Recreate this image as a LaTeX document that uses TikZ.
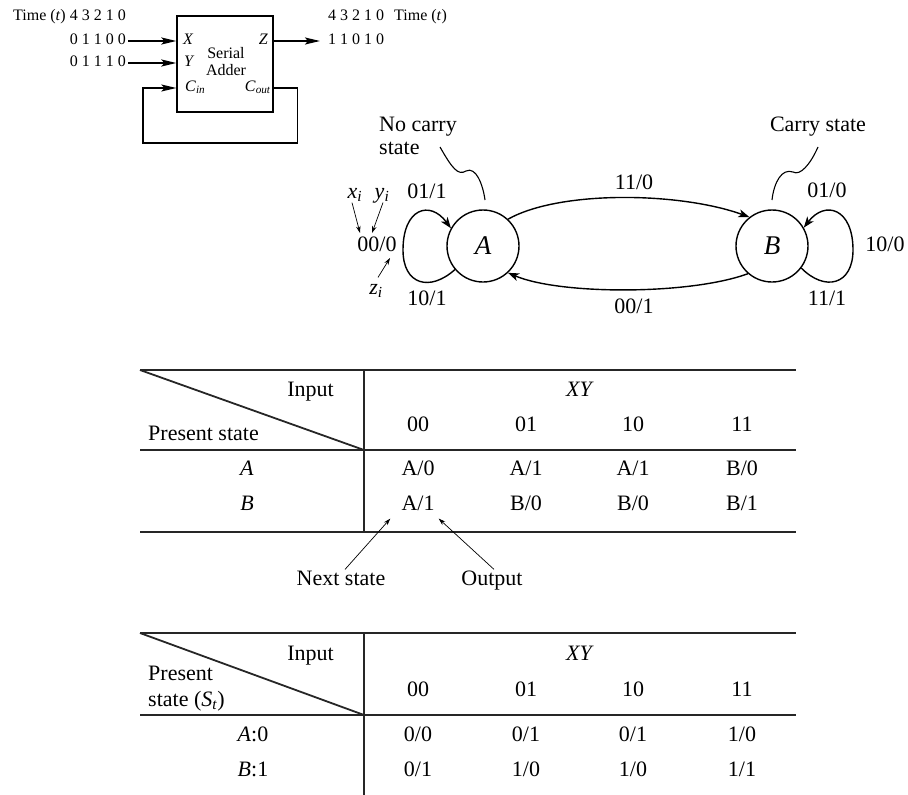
\documentclass[tikz,border=0pt]{standalone}
\usepackage{fontspec}
\setmainfont{Liberation Serif}
\usetikzlibrary{arrows.meta,positioning,calc}

\tikzset{
  big/.style={font=\fontsize{22}{24}\selectfont, inner sep=0pt, text height=0.68em, text depth=0pt},
  small/.style={font=\fontsize{16}{18}\selectfont, inner sep=0pt, text height=0.68em, text depth=0pt},
  state/.style={draw, circle, line width=1.4pt, minimum size=72pt, inner sep=0pt, font=\fontsize{27}{29}\selectfont\itshape},
  rule/.style={line width=1.8pt, draw=black!85},
  wire/.style={line width=1.3pt},
  fat/.style={-{Stealth[length=15pt,width=7pt,inset=3pt]}, line width=1.8pt},
  edge/.style={-{Stealth[length=11pt,width=8pt,inset=3pt]}, line width=1.4pt},
  thin/.style={-{Stealth[length=7pt,width=4.5pt]}, line width=0.7pt},
}

\begin{document}
\begin{tikzpicture}[x=1pt, y=-1pt]
    \useasboundingbox (0,0) rectangle (908,795);

    % serial adder block
    \node[small, anchor=east] (time1) at (126,17) {Time (\textit{t}) 4 3 2 1 0};
    \node[small, anchor=east] (xbits) at (126,41) {0 1 1 0 0};
    \node[small, anchor=east] (ybits) at (126,63) {0 1 1 1 0};
    \node[draw, wire, minimum width=96pt, minimum height=96pt] (adder) at (225,64) {};
    \node[small, anchor=west] (xport) at (183,41) {\textit{X}};
    \node[small, anchor=west] (yport) at (184,63) {\textit{Y}};
    \node[small, anchor=west] (cin) at (185,88) {\textit{C}\textsubscript{\textit{in}}};
    \node[small, anchor=east] (zport) at (268,41) {\textit{Z}};
    \node[small, anchor=east] (cout) at (271,88) {\textit{C}\textsubscript{\textit{out}}};
    \node[small] (serial) at (226,55) {Serial};
    \node[small] (addname) at (226,72) {Adder};
    \node[small, anchor=west] (zbits) at (328,41) {1 1 0 1 0};
    \node[small, anchor=west] (time2) at (328,17) {4 3 2 1 0\hspace{10pt}Time (\textit{t})};
    \draw[fat] ([xshift=2pt]xbits.east) -- (adder.west |- xbits);
    \draw[fat] ([xshift=2pt]ybits.east) -- (adder.west |- ybits);
    \draw[fat] (adder.east |- zport) -- ([xshift=-8pt]zbits.west);
    \draw[fat, line width=1.3pt] (adder.east |- cout) -- ++(24,0) |- (143,143) |- (adder.west |- cin);

    % state diagram
    \node[state] (A) at (483,246) {A};
    \node[state] (B) at (772,246) {B};
    \draw[edge] (A.47) .. controls (560,190) and (680,192) .. (B.128);
    \draw[edge] (B.229) .. controls (690,295) and (560,295) .. (A.313);
    \draw[edge] (A.220) .. controls (430,292) and (403,285) .. (403,250) .. controls (403,208) and (430,200) .. (A.151);
    \draw[edge] (B.323) .. controls (825,292) and (853,285) .. (853,250) .. controls (853,208) and (825,200) .. (B.30);
    \node[big] (lab11) at (634,186) {11/0};
    \node[big] (lab00) at (634,310) {00/1};
    \node[big] (labA01) at (427,195) {01/1};
    \node[big] (labA10) at (427,302) {10/1};
    \node[big] (labA00) at (377,248) {00/0};
    \node[big] (labB01) at (827,194) {01/0};
    \node[big] (labB11) at (827,302) {11/1};
    \node[big] (labB10) at (885,248) {10/0};
    \node[big] (xi) at (355,195) {\textit{x}\textsubscript{\textit{i}}};
    \node[big] (yi) at (382,195) {\textit{y}\textsubscript{\textit{i}}};
    \node[big] (zi) at (376,291) {\textit{z}\textsubscript{\textit{i}}};
    \coordinate (xitip) at (360,233);
    \coordinate (yitip) at (372,233);
    \coordinate (zitip) at (390,258);
    \draw[thin] ([shift={(-3,4)}]xi.south) -- (xitip);
    \draw[thin] ([shift={(1,4)}]yi.south) -- (yitip);
    \draw[thin] ([shift={(2,-10)}]zi.north) -- (zitip);

    \node[big, anchor=west] (nocarry) at (379,128) {No carry};
    \node[big, anchor=west] (nocarry2) at (379,151) {state};
    \node[big] (carry) at (818,128) {Carry state};
    \coordinate (nctail) at (440,147);
    \coordinate (nchead) at (485,200);
    \coordinate (ctail) at (818,147);
    \coordinate (chead) at (772,200);
    \draw[line width=1.1pt] (nctail) .. controls (452,168) and (458,176) .. (466,171) .. controls (476,166) and (483,185) .. (nchead);
    \draw[line width=1.1pt] (ctail) .. controls (810,165) and (800,176) .. (793,172) .. controls (782,168) and (774,182) .. (chead);

    % state table
    \draw[rule] (140,370) -- (796,370);
    \draw[rule] (140,450) -- (796,450);
    \draw[rule] (140,532) -- (796,532);
    \draw[rule] (364,370) -- (364,532);
    \draw[rule] (140,370) -- (364,450);
    \node[big, anchor=east] (inp1) at (334,393) {Input};
    \node[big, anchor=west] (pres1) at (148,437) {Present state};
    \node[big] (xy1) at (580,393) {\textit{XY}};
    \node[big] (ha00) at (418,428) {00};
    \node[big] (ha01) at (526,428) {01};
    \node[big] (ha10) at (633,428) {10};
    \node[big] (ha11) at (742,428) {11};
    \node[big] (rowA) at (247,472) {\textit{A}};
    \node[big] (ca00) at (418,472) {A/0};
    \node[big] (ca01) at (526,472) {A/1};
    \node[big] (ca10) at (633,472) {A/1};
    \node[big] (ca11) at (742,472) {B/0};
    \node[big] (rowB) at (247,507) {\textit{B}};
    \node[big] (cb00) at (418,507) {A/1};
    \node[big] (cb01) at (526,507) {B/0};
    \node[big] (cb10) at (633,507) {B/0};
    \node[big] (cb11) at (742,507) {B/1};
    \node[big] (nexts) at (341,582) {Next state};
    \node[big] (outp) at (492,582) {Output};
    \draw[thin] ([shift={(4,-9)}]nexts.north) -- ([shift={(-11,8)}]cb00.south west);
    \draw[thin] ([shift={(2,-9)}]outp.north) -- ([shift={(4,8)}]cb00.south east);

    % encoded table
    \draw[rule] (140,633) -- (796,633);
    \draw[rule] (140,715) -- (796,715);
    \draw[rule] (364,633) -- (364,795);
    \draw[rule] (140,633) -- (364,715);
    \node[big, anchor=east] (inp2) at (334,657) {Input};
    \node[big, anchor=west] (pres2) at (148,677) {Present};
    \node[big, anchor=west] (pres2b) at (148,703) {state (\textit{S}\textsubscript{\textit{t}})};
    \node[big] (xy2) at (580,657) {\textit{XY}};
    \node[big] (hb00) at (418,693) {00};
    \node[big] (hb01) at (526,693) {01};
    \node[big] (hb10) at (633,693) {10};
    \node[big] (hb11) at (742,693) {11};
    \node[big] (rowA0) at (253,738) {\textit{A}:0};
    \node[big] (da00) at (418,738) {0/0};
    \node[big] (da01) at (526,738) {0/1};
    \node[big] (da10) at (633,738) {0/1};
    \node[big] (da11) at (742,738) {1/0};
    \node[big] (rowB1) at (253,773) {\textit{B}:1};
    \node[big] (db00) at (418,773) {0/1};
    \node[big] (db01) at (526,773) {1/0};
    \node[big] (db10) at (633,773) {1/0};
    \node[big] (db11) at (742,773) {1/1};
\end{tikzpicture}
\end{document}
